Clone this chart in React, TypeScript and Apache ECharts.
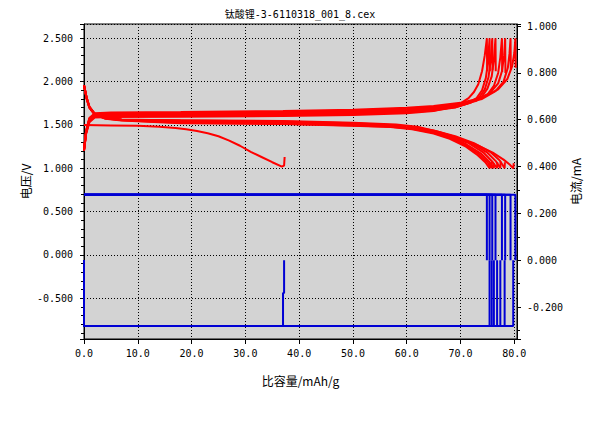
import React, { useEffect, useRef } from 'react';
import * as echarts from 'echarts';

const chartTitle = '钛酸锂-3-6110318_001_8.cex';
const xName = '比容量/mAh/g';
const yLeftName = '电压/V';
const yRightName = '电流/mA';

// Voltage (V) vs specific capacity (mAh/g)
const firstDischarge: number[][] = [
  [0, 1.5], [5, 1.495], [10, 1.49], [14, 1.48], [17, 1.465], [19, 1.45], [21, 1.43], [23, 1.405],
  [25, 1.37], [27, 1.32], [29, 1.26], [31, 1.19], [33, 1.13], [35, 1.07], [36.8, 1.02], [37.2, 1.03], [37.3, 1.13],
];

const chargeCurves: number[][][] = [
  [[0, 1.2], [0.4, 1.4], [1, 1.53], [2, 1.585], [5, 1.592], [18, 1.595], [37, 1.602], [50, 1.615], [60, 1.635], [65, 1.66], [68, 1.7], [70, 1.75], [71.5, 1.81], [72.5, 1.88], [73.3, 1.97], [74, 2.12], [74.5, 2.3], [74.9, 2.5], [74.95, 2.12]],
  [[0, 1.2], [0.4, 1.41], [1, 1.54], [2, 1.595], [5, 1.602], [18, 1.605], [37, 1.612], [50, 1.626], [60, 1.648], [65, 1.668], [69, 1.7], [71, 1.74], [73, 1.81], [74, 1.9], [74.7, 2.04], [75.1, 2.22], [75.4, 2.5], [75.45, 2.12]],
  [[0, 1.21], [0.4, 1.41], [1, 1.55], [2, 1.6], [5, 1.608], [18, 1.612], [37, 1.62], [50, 1.634], [60, 1.656], [65, 1.676], [69, 1.705], [71.5, 1.75], [73.5, 1.82], [74.5, 1.91], [75.2, 2.05], [75.6, 2.24], [75.9, 2.5], [75.95, 2.13]],
  [[0, 1.21], [0.4, 1.42], [1, 1.56], [2, 1.61], [5, 1.616], [18, 1.62], [37, 1.628], [50, 1.643], [60, 1.665], [65, 1.685], [69, 1.71], [72, 1.76], [74, 1.83], [75, 1.92], [75.8, 2.06], [76.2, 2.25], [76.5, 2.5], [76.55, 2.12]],
  [[0, 1.21], [0.4, 1.42], [1, 1.565], [2, 1.615], [5, 1.624], [18, 1.628], [37, 1.636], [50, 1.652], [60, 1.674], [65, 1.694], [70, 1.73], [73, 1.78], [75, 1.85], [76.2, 1.95], [77, 2.1], [77.4, 2.28], [77.7, 2.5], [77.75, 2.11]],
  [[0, 1.21], [0.4, 1.43], [1, 1.57], [2, 1.62], [5, 1.63], [18, 1.635], [37, 1.644], [50, 1.66], [60, 1.683], [65, 1.703], [70, 1.74], [73, 1.79], [75.5, 1.87], [77, 1.98], [77.7, 2.12], [78.1, 2.3], [78.3, 2.5], [78.35, 2.1]],
  [[0, 1.22], [0.4, 1.43], [1, 1.575], [2, 1.627], [5, 1.637], [18, 1.642], [37, 1.651], [50, 1.668], [60, 1.69], [65, 1.71], [70, 1.745], [74, 1.8], [76.5, 1.89], [78, 2.0], [78.8, 2.16], [79.1, 2.32], [79.3, 2.5], [79.35, 2.14]],
  [[0, 1.22], [0.4, 1.44], [1, 1.58], [2, 1.635], [5, 1.645], [18, 1.65], [37, 1.66], [50, 1.676], [60, 1.7], [65, 1.72], [70, 1.755], [74, 1.815], [77, 1.91], [78.7, 2.03], [79.6, 2.18], [80, 2.33], [80.2, 2.5], [80.25, 2.16]],
];

const dischargeCurves: number[][][] = [
  [[0, 1.96], [0.5, 1.8], [1, 1.7], [2, 1.62], [4, 1.572], [7, 1.55], [18, 1.52], [37, 1.51], [50, 1.49], [57, 1.475], [61, 1.45], [65, 1.4], [68, 1.34], [71, 1.25], [73.2, 1.15], [74.6, 1.07], [75.4, 1.0], [75.45, 1.07]],
  [[0, 1.96], [0.5, 1.8], [1, 1.7], [2, 1.62], [4, 1.575], [7, 1.555], [18, 1.525], [37, 1.515], [50, 1.495], [57, 1.48], [61, 1.456], [65, 1.41], [68, 1.35], [71, 1.265], [73.5, 1.16], [75, 1.07], [75.8, 1.0], [75.85, 1.08]],
  [[0, 1.96], [0.5, 1.81], [1, 1.7], [2, 1.62], [4, 1.578], [7, 1.558], [18, 1.53], [37, 1.52], [50, 1.5], [57, 1.485], [61, 1.462], [65, 1.42], [68, 1.36], [71, 1.28], [73.8, 1.17], [75.4, 1.07], [76.2, 1.0], [76.25, 1.06]],
  [[0, 1.96], [0.5, 1.81], [1, 1.71], [2, 1.625], [4, 1.58], [7, 1.56], [18, 1.54], [37, 1.527], [50, 1.507], [57, 1.49], [61, 1.467], [65, 1.425], [68, 1.37], [71.5, 1.29], [74.3, 1.18], [76, 1.07], [76.8, 1.0], [76.85, 1.07]],
  [[0, 1.96], [0.5, 1.81], [1, 1.71], [2, 1.625], [4, 1.58], [7, 1.56], [18, 1.545], [37, 1.533], [50, 1.513], [57, 1.495], [61, 1.472], [65, 1.43], [68.5, 1.37], [72, 1.29], [75, 1.18], [76.6, 1.08], [77.4, 1.0], [77.45, 1.08]],
  [[0, 1.96], [0.5, 1.81], [1, 1.71], [2, 1.63], [4, 1.582], [7, 1.562], [18, 1.55], [37, 1.539], [50, 1.519], [57, 1.5], [61, 1.477], [65, 1.435], [69, 1.37], [72.5, 1.29], [75.5, 1.19], [77.3, 1.09], [78.2, 1.0], [78.25, 1.07]],
  [[0, 1.96], [0.5, 1.81], [1, 1.71], [2, 1.63], [4, 1.58], [7, 1.56], [18, 1.555], [37, 1.545], [50, 1.525], [58, 1.505], [62, 1.48], [66, 1.42], [70, 1.34], [73, 1.27], [76, 1.18], [78, 1.1], [79.2, 1.04], [79.8, 1.0], [79.9, 1.06]],
];

// Current (mA) steps
const chargeCurrent = 0.28;
const dischargeCurrent = -0.28;
const firstDischargeEnd = [37.0, 37.2];
const firstDischargeStep = -0.14;
const chargeEndCapacity = [74.9, 75.4, 75.9, 76.5, 77.7, 78.3, 79.3, 80.2];
const dischargeEndCapacity = [75.4, 75.8, 76.2, 76.8, 77.4, 78.2, 79.8];

const RED = '#ff0000';
const BLUE = '#0000d4';
const NUM_FONT = '"DejaVu Sans Mono", monospace';
const CJK_FONT = '"Noto Sans CJK SC", "DejaVu Sans", sans-serif';

function buildOption() {
  const series: any[] = [];
  const lineBase = { type: 'line', showSymbol: false, symbol: 'none', silent: true };

  // current (blue)
  series.push({
    ...lineBase, yAxisIndex: 1,
    lineStyle: { color: BLUE, width: 2 },
    data: [[0, 0], [0, dischargeCurrent], [firstDischargeEnd[0], dischargeCurrent], [firstDischargeEnd[0], firstDischargeStep], [firstDischargeEnd[1], firstDischargeStep], [firstDischargeEnd[1], 0]],
  });
  chargeEndCapacity.forEach((q) => {
    series.push({ ...lineBase, yAxisIndex: 1, lineStyle: { color: BLUE, width: 2 }, data: [[0, chargeCurrent], [q, chargeCurrent], [q, 0]] });
  });
  dischargeEndCapacity.forEach((q) => {
    series.push({ ...lineBase, yAxisIndex: 1, lineStyle: { color: BLUE, width: 2 }, data: [[0, 0], [0, dischargeCurrent], [q, dischargeCurrent], [q, 0]] });
  });

  // voltage (red)
  series.push({ ...lineBase, yAxisIndex: 0, lineStyle: { color: RED, width: 2 }, data: firstDischarge });
  chargeCurves.forEach((c) => series.push({ ...lineBase, yAxisIndex: 0, lineStyle: { color: RED, width: 2 }, data: c }));
  dischargeCurves.forEach((c) => series.push({ ...lineBase, yAxisIndex: 0, lineStyle: { color: RED, width: 2 }, data: c }));

  const axisLine = { show: true, onZero: false, lineStyle: { color: '#000', width: 1 } };
  const dotted = { show: true, lineStyle: { color: '#000', width: 1, type: [1, 2] } };

  return {
    animation: false,
    backgroundColor: '#ffffff',
    title: {
      text: chartTitle, left: 'center', top: 4,
      textStyle: { fontSize: 10, fontWeight: 'normal', color: '#000', fontFamily: '"DejaVu Sans Mono", "Noto Sans CJK SC", monospace' },
    },
    grid: { left: 84, right: 83, top: 24, bottom: 84, show: true, backgroundColor: '#d3d3d3', borderColor: '#000', borderWidth: 1 },
    xAxis: {
      type: 'value', min: 0, max: 80.5, splitNumber: 8, minInterval: 10, maxInterval: 10,
      name: xName, nameLocation: 'middle', nameGap: 35, nameMoveOverlap: false,
      nameTextStyle: { fontSize: 12, color: '#000', fontFamily: CJK_FONT },
      axisLine, axisTick: { show: true, length: 5, lineStyle: { color: '#000' } },
      axisLabel: { color: '#000', fontSize: 10, fontFamily: NUM_FONT, margin: 9, showMaxLabel: false, formatter: (v: number) => v.toFixed(1) },
      splitLine: dotted,
    },
    yAxis: [
      {
        type: 'value', min: -0.97, max: 2.665, splitNumber: 7, minInterval: 0.5, maxInterval: 0.5,
        name: yLeftName, nameLocation: 'middle', nameGap: 53, nameRotate: 90, nameMoveOverlap: false,
        nameTextStyle: { fontSize: 12, color: '#000', fontFamily: CJK_FONT },
        axisLine, axisTick: { show: true, length: 4, lineStyle: { color: '#000' } },
        minorTick: { show: true, splitNumber: 5, length: 3, lineStyle: { color: '#000' } },
        axisLabel: { color: '#000', fontSize: 10, fontFamily: NUM_FONT, margin: 11, showMinLabel: false, showMaxLabel: false, formatter: (v: number) => v.toFixed(3) },
        splitLine: dotted,
      },
      {
        type: 'value', position: 'right', min: -0.336, max: 1.0086, splitNumber: 7, minInterval: 0.2, maxInterval: 0.2,
        name: yRightName, nameLocation: 'middle', nameGap: 52, nameRotate: 90, nameMoveOverlap: false,
        nameTextStyle: { fontSize: 12, color: '#000', fontFamily: CJK_FONT },
        axisLine, axisTick: { show: true, length: 4, lineStyle: { color: '#000' } },
        minorTick: { show: true, splitNumber: 2, length: 3, lineStyle: { color: '#000' } },
        axisLabel: { color: '#000', fontSize: 10, fontFamily: NUM_FONT, margin: 10, showMinLabel: false, showMaxLabel: false, formatter: (v: number) => v.toFixed(3) },
        splitLine: { show: false },
      },
    ],
    series,
  };
}

export default function App() {
  const ref = useRef<HTMLDivElement>(null);
  useEffect(() => {
    const chart = echarts.init(ref.current!, null, { renderer: 'svg' });
    chart.setOption(buildOption() as any);
    return () => chart.dispose();
  }, []);
  return <div ref={ref} style={{ position: 'fixed', left: 0, top: 0, width: 600, height: 423 }} />;
}
